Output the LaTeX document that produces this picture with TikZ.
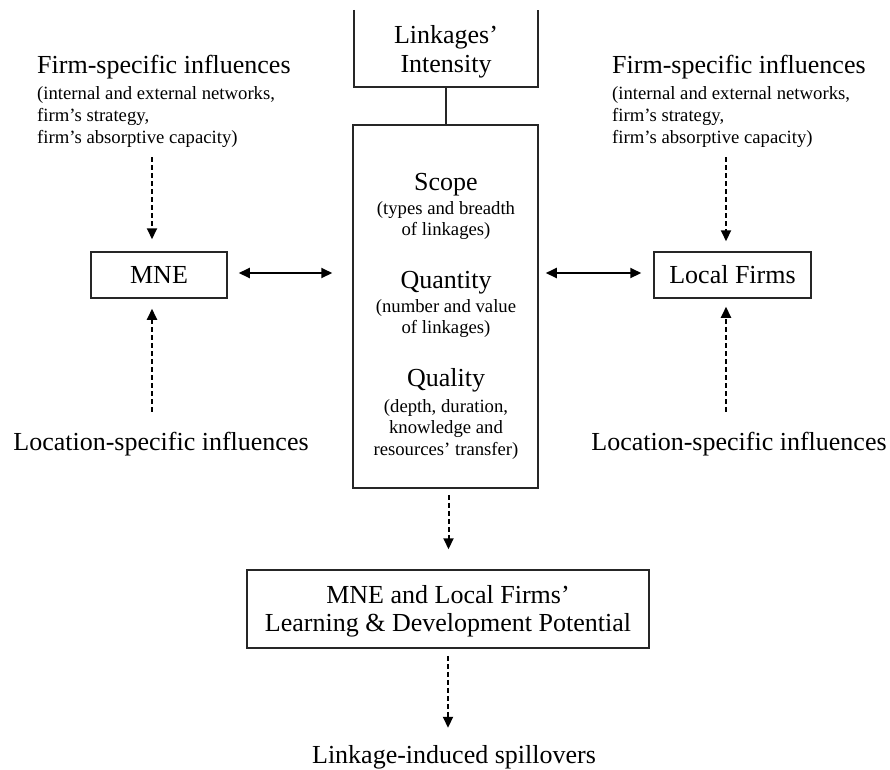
\documentclass[tikz,border=0pt]{standalone}
\usepackage{fontspec}
\setmainfont{Liberation Serif}
\usetikzlibrary{arrows.meta}
\newcommand\bigtxt{\fontsize{26}{31}\selectfont}
\newcommand\smalltxt{\fontsize{18.7}{22}\selectfont}

\begin{document}
\begin{tikzpicture}[x=1pt,y=-1pt,
  box/.style={draw=black!85,line width=1.5pt,inner sep=0pt},
  frame/.style={inner sep=0pt},
  big/.style={font=\bigtxt,inner sep=0pt},
  small/.style={font=\smalltxt,inner sep=0pt},
  flow/.style={line width=2pt,dash pattern=on 5pt off 3pt,
    -{Triangle[length=11pt,width=10pt]}},
  twoway/.style={line width=2pt,
    {Triangle[length=11pt,width=10pt]}-{Triangle[length=11pt,width=10pt]}},
  link/.style={line width=1.5pt,draw=black!85}]
\useasboundingbox (0,0) rectangle (890,769);

% ---- boxes ----
\node[frame,minimum width=184pt,minimum height=77pt] (intens) at (446,48.5) {};
\draw[link] (intens.north west) -- (intens.south west) -- (intens.south east) -- (intens.north east);
\node[box,minimum width=185pt,minimum height=363pt] (centre) at (445.5,306.5) {};
\node[box,minimum width=136pt,minimum height=46pt,font=\bigtxt] (mne) at (159,275) {MNE};
\node[box,minimum width=157pt,minimum height=46pt,font=\bigtxt] (local) at (732.5,275) {Local Firms};
\node[box,minimum width=402pt,minimum height=78pt] (learn) at (448,609) {};

% ---- text of the boxes ----
\node[big,anchor=base] (intens1) at (446,43) {Linkages'};
\node[big,anchor=base] (intens2) at (446,72) {Intensity};

\node[big,anchor=base]   (scope)  at (446,190) {Scope};
\node[small,anchor=base] (scope1) at (446,214) {(types and breadth};
\node[small,anchor=base] (scope2) at (446,235) {of linkages)};

\node[big,anchor=base]   (quant)  at (446,288) {Quantity};
\node[small,anchor=base] (quant1) at (446,312) {(number and value};
\node[small,anchor=base] (quant2) at (446,333) {of linkages)};

\node[big,anchor=base]   (qual)  at (446,386) {Quality};
\node[small,anchor=base] (qual1) at (446,412) {(depth, duration,};
\node[small,anchor=base] (qual2) at (446,433) {knowledge and};
\node[small,anchor=base] (qual3) at (446,455) {resources' transfer)};

\node[big,anchor=base] (learn1) at (448,603) {MNE and Local Firms'};
\node[big,anchor=base] (learn2) at (448,631) {Learning \& Development Potential};

% ---- influences ----
\node[big,anchor=base west]   (fsL)  at (37,73)  {Firm-specific influences};
\node[small,anchor=base west] (fsL1) at (37,99)  {(internal and external networks,};
\node[small,anchor=base west] (fsL2) at (37,121) {firm's strategy,};
\node[small,anchor=base west] (fsL3) at (37,143) {firm's absorptive capacity)};

\node[big,anchor=base west]   (fsR)  at (612,73)  {Firm-specific influences};
\node[small,anchor=base west] (fsR1) at (612,99)  {(internal and external networks,};
\node[small,anchor=base west] (fsR2) at (612,121) {firm's strategy,};
\node[small,anchor=base west] (fsR3) at (612,143) {firm's absorptive capacity)};

\node[big,anchor=base] (locL) at (161,450) {Location-specific influences};
\node[big,anchor=base] (locR) at (739,450) {Location-specific influences};

\node[big,anchor=base] (spill) at (454,763) {Linkage-induced spillovers};

% ---- connectors ----
\draw[link] (intens.south) -- (intens.south |- centre.north);

\draw[flow,shorten <=10pt,shorten >=12pt]
  ([xshift=-7pt]mne.north |- fsL3.south) -- ([xshift=-7pt]mne.north);
\draw[flow,shorten <=10pt,shorten >=10pt]
  ([xshift=-6.5pt]local.north |- fsR3.south) -- ([xshift=-6.5pt]local.north);

\draw[flow,shorten <=20pt,shorten >=10pt]
  ([xshift=-7pt]mne.south |- locL.north) -- ([xshift=-7pt]mne.south);
\draw[flow,shorten <=20pt,shorten >=8pt]
  ([xshift=-6.5pt]local.south |- locR.north) -- ([xshift=-6.5pt]local.south);

\draw[twoway,shorten <=11pt,shorten >=20pt]
  ([yshift=2pt]mne.east) -- ([yshift=2pt]mne.east -| centre.west);
\draw[twoway,shorten <=7pt,shorten >=12pt]
  ([yshift=2pt]local.west -| centre.east) -- ([yshift=2pt]local.west);

\draw[flow,shorten <=6pt,shorten >=20pt]
  ([xshift=3pt]centre.south) -- ([xshift=3pt]centre.south |- learn.north);
\draw[flow,shorten <=7pt,shorten >=17pt]
  (learn.south) -- (learn.south |- spill.north);
\end{tikzpicture}
\end{document}
